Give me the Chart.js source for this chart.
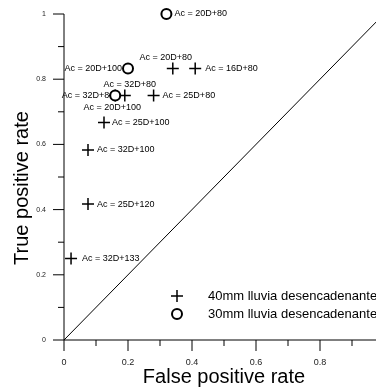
<!DOCTYPE html>
<html>
<head>
<meta charset="utf-8">
<script src="https://cdn.jsdelivr.net/npm/chart.js@4/dist/chart.umd.min.js"></script>
<style>
html, body { margin: 0; padding: 0; overflow: hidden; background: #fff; }
canvas { display: block; }
</style>
</head>
<body>
<canvas id="rocChart" width="430" height="389"></canvas>
<script>
// 40mm lluvia desencadenante (cruces)
var crossX = [0.34, 0.41, 0.19, 0.16, 0.28, 0.125, 0.075, 0.075, 0.022];
var crossY = [0.833, 0.833, 0.75, 0.75, 0.75, 0.667, 0.583, 0.417, 0.25];
var crossLabels = ['Ac = 20D+80', 'Ac = 16D+80', 'Ac = 32D+80', 'Ac = 20D+100', 'Ac = 25D+80',
                   'Ac = 25D+100', 'Ac = 32D+100', 'Ac = 25D+120', 'Ac = 32D+133'];
// 30mm lluvia desencadenante (circulos)
var circleX = [0.32, 0.2, 0.16];
var circleY = [1.0, 0.833, 0.75];
var circleLabels = ['Ac = 20D+80', 'Ac = 20D+100', 'Ac = 32D+80'];

var seriesNames = ['40mm lluvia desencadenante', '30mm lluvia desencadenante'];
var xTicks = [0, 0.2, 0.4, 0.6, 0.8, 1];
var yTicks = [0, 0.2, 0.4, 0.6, 0.8, 1];

// donde va cada etiqueta respecto al punto
var crossPlace = [['above', -7], ['right', 10], ['above', 5], ['below', -3], ['right', 9],
                  ['right', 8], ['right', 9], ['right', 9], ['right', 11]];
var circlePlace = [['right', 8], ['left', -6], ['left', -1]];

var FONT = 'Liberation Sans, Arial, sans-serif';

function toPoints(xs, ys) {
	var pts = [];
	for (var i = 0; i < xs.length; i++) {
		pts.push({x: xs[i], y: ys[i]});
	}
	return pts;
}

var axesPlugin = {
	id: 'axesPlugin',
	beforeDatasetsDraw: function(chart) {
		var ctx = chart.ctx;
		var xs = chart.scales.x, ys = chart.scales.y;
		var x0 = xs.getPixelForValue(0), y0 = ys.getPixelForValue(0);
		ctx.save();
		ctx.strokeStyle = '#000';
		ctx.lineWidth = 1;
		ctx.beginPath();
		ctx.moveTo(x0, ys.getPixelForValue(1));
		ctx.lineTo(x0, y0);
		ctx.lineTo(xs.getPixelForValue(1), y0);
		for (var v = 0; v <= 10; v++) {
			var len = (v % 2 == 0) ? 11 : 6;
			var py = ys.getPixelForValue(v / 10);
			ctx.moveTo(x0 - len, py);
			ctx.lineTo(x0, py);
			var px = xs.getPixelForValue(v / 10);
			ctx.moveTo(px, y0);
			ctx.lineTo(px, y0 + len);
		}
		ctx.stroke();

		// etiquetas de los puntos
		ctx.fillStyle = '#000';
		ctx.font = '9px ' + FONT;
		ctx.textBaseline = 'middle';
		function label(xv, yv, text, place) {
			var px = xs.getPixelForValue(xv), py = ys.getPixelForValue(yv);
			var side = place[0], dx = place[1];
			if (side == 'right') {
				ctx.textAlign = 'left';
				ctx.fillText(text, px + dx, py);
			} else if (side == 'left') {
				ctx.textAlign = 'right';
				ctx.fillText(text, px + dx, py);
			} else if (side == 'above') {
				ctx.textAlign = 'center';
				ctx.fillText(text, px + dx, py - 11);
			} else {
				ctx.textAlign = 'center';
				ctx.fillText(text, px + dx, py + 12);
			}
		}
		for (var i = 0; i < crossX.length; i++) {
			label(crossX[i], crossY[i], crossLabels[i], crossPlace[i]);
		}
		for (var j = 0; j < circleX.length; j++) {
			label(circleX[j], circleY[j], circleLabels[j], circlePlace[j]);
		}

		// titulo eje y
		ctx.save();
		ctx.translate(22, 188);
		ctx.rotate(-Math.PI / 2);
		ctx.textAlign = 'center';
		ctx.font = '20px ' + FONT;
		ctx.fillText('True positive rate', 0, 0);
		ctx.restore();
		ctx.restore();
	},
	afterDatasetsDraw: function(chart) {
		// leyenda
		var ctx = chart.ctx;
		var lx = 177, ly = [296, 314];
		ctx.save();
		for (var i = 0; i < 2; i++) {
			var ds = chart.data.datasets[i == 0 ? 1 : 0];
			ctx.strokeStyle = '#000';
			ctx.fillStyle = '#fff';
			ctx.lineWidth = ds.borderWidth;
			Chart.helpers.drawPoint(ctx, {pointStyle: ds.pointStyle, radius: ds.pointRadius, borderWidth: ds.borderWidth, rotation: 0}, lx, ly[i]);
			ctx.fillStyle = '#000';
			ctx.font = '13px ' + FONT;
			ctx.textAlign = 'left';
			ctx.textBaseline = 'middle';
			ctx.fillText(seriesNames[i], 208, ly[i]);
		}
		ctx.restore();
	}
};

var ctx = document.getElementById('rocChart').getContext('2d');
var rocChart = new Chart(ctx, {
	type: 'scatter',
	data: {
		datasets: [{
			label: seriesNames[1],
			data: toPoints(circleX, circleY),
			pointStyle: 'circle',
			pointRadius: 5,
			borderWidth: 2,
			borderColor: '#000',
			backgroundColor: '#fff',
			clip: false
		}, {
			label: seriesNames[0],
			data: toPoints(crossX, crossY),
			pointStyle: 'cross',
			pointRadius: 6,
			borderWidth: 1.5,
			borderColor: '#000',
			backgroundColor: '#000',
			clip: false
		}, {
			type: 'line',
			label: 'diagonal',
			data: [{x: 0, y: 0}, {x: 1, y: 1}],
			borderColor: '#000',
			borderWidth: 1,
			pointRadius: 0,
			fill: false,
			clip: false
		}]
	},
	options: {
		responsive: false,
		animation: false,
		events: [],
		layout: { padding: { top: 14, right: 46, left: 0, bottom: 0 } },
		plugins: { legend: { display: false }, tooltip: { enabled: false } },
		scales: {
			x: {
				type: 'linear', min: 0, max: 1,
				afterFit: function(scale) { scale.height = 49; scale.paddingLeft = 0; scale.paddingRight = 0; },
				afterBuildTicks: function(scale) { scale.ticks = xTicks.map(function(v) { return {value: v}; }); },
				border: { display: false },
				grid: { display: false, drawTicks: false },
				ticks: { padding: 17, color: '#222', font: { size: 9, family: FONT }, maxRotation: 0,
					callback: function(v) { return String(v); } },
				title: { display: true, text: 'False positive rate', color: '#000',
					font: { size: 20, family: FONT }, padding: 0 }
			},
			y: {
				type: 'linear', min: 0, max: 1,
				afterFit: function(scale) { scale.width = 64; scale.paddingTop = 0; scale.paddingBottom = 0; },
				afterBuildTicks: function(scale) { scale.ticks = yTicks.map(function(v) { return {value: v}; }); },
				border: { display: false },
				grid: { display: false, drawTicks: false },
				ticks: { padding: 18, color: '#222', font: { size: 7, family: FONT },
					callback: function(v) { return String(v); } }
			}
		}
	},
	plugins: [axesPlugin]
});
</script>
</body>
</html>
